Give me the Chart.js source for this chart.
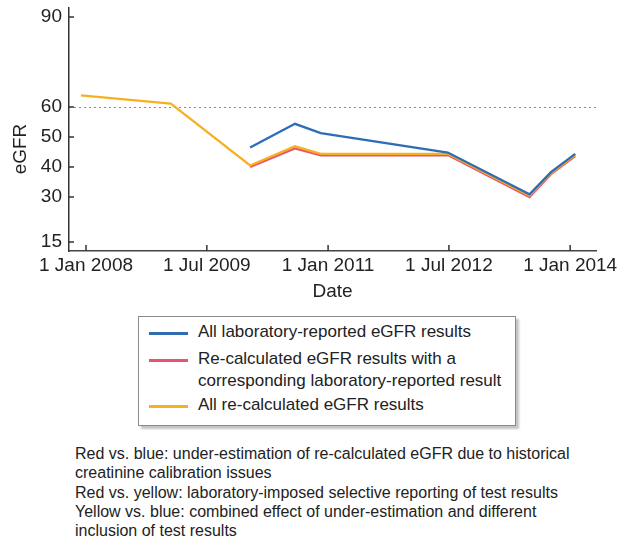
<!DOCTYPE html>
<html>
<head>
<meta charset="utf-8">
<script src="https://cdn.jsdelivr.net/npm/chart.js@4.4.1/dist/chart.umd.min.js"></script>
<style>
    body { margin: 0; background: #fff; font-family: "Liberation Sans", Arial, sans-serif; color: #222; }
    #wrap { position: relative; width: 617px; height: 539px; overflow: hidden; }
    #chart { position: absolute; left: 0; top: 0; }
    #legend { position: absolute; left: 138px; top: 316px; width: 376px; height: 108px;
              border: 1px solid #8a8a8a; box-shadow: 3px 3px 2px #c4c4c4; background: #fff; }
    #legend ul { list-style: none; margin: 0; padding: 4px 0 0 0; }
    #legend li { position: relative; padding-left: 59px; font-size: 17px; line-height: 22px; }
    #legend li .swatch { position: absolute; left: 10px; top: 11px; width: 39px; height: 3px; }
    #notes { position: absolute; left: 75px; top: 444px; font-size: 16px; line-height: 19.3px; }
</style>
</head>
<body>
<div id="wrap">
    <canvas id="chart" width="617" height="310"></canvas>
    <div id="legend"></div>
    <div id="notes">
        Red vs. blue: under-estimation of re-calculated eGFR due to historical<br>
        creatinine calibration issues<br>
        Red vs. yellow: laboratory-imposed selective reporting of test results<br>
        Yellow vs. blue: combined effect of under-estimation and different<br>
        inclusion of test results
    </div>
</div>
<script>
// values
const recalcDates = ['2007-12-09', '2009-01-19', '2010-01-13', '2010-08-04', '2010-11-29', '2012-06-26', '2013-07-01', '2013-10-06', '2014-01-24'];
const recalcValues = [63.9, 61.1, 40.5, 46.9, 44.4, 44.4, 30.5, 38.0, 44.0];

const labDates = ['2010-01-13', '2010-08-04', '2010-11-29', '2012-06-26', '2013-07-01', '2013-10-06', '2014-01-24'];
const labValues = [46.5, 54.4, 51.3, 44.8, 30.9, 38.3, 44.4];
const matchedValues = [40.0, 46.2, 43.9, 44.0, 30.0, 37.6, 43.6];

const xTickDates = ['2008-01-01', '2009-07-01', '2011-01-01', '2012-07-01', '2014-01-01'];
const xTickLabels = ['1 Jan 2008', '1 Jul 2009', '1 Jan 2011', '1 Jul 2012', '1 Jan 2014'];
const xMinDate = '2007-10-16';
const xMaxDate = '2014-04-28';

const yTicks = [15, 30, 40, 50, 60, 90];
const yMin = 12;
const yMax = 93;
const refLine = 60;

const labels = {
    lab: ['All laboratory-reported eGFR results'],
    matched: ['Re-calculated eGFR results with a', 'corresponding laboratory-reported result'],
    recalc: ['All re-calculated eGFR results'],
};

const FONT = '"Liberation Sans", Arial, sans-serif';
const toTime = d => Date.parse(d);
const xTickValues = xTickDates.map(toTime);

const points = (dates, values) => dates.map((d, i) => ({ x: toTime(d), y: values[i] }));

// legend is HTML, built from the chart datasets (in legend order)
const htmlLegend = {
    id: 'htmlLegend',
    afterUpdate(chart) {
        const box = document.getElementById('legend');
        const ul = document.createElement('ul');
        const order = [0, 1, 2];
        order.forEach((idx, i) => {
            const ds = chart.data.datasets[idx];
            const li = document.createElement('li');
            li.style.marginBottom = i === 0 ? '5px' : '2px';
            const sw = document.createElement('span');
            sw.className = 'swatch';
            sw.style.background = ds.borderColor;
            li.appendChild(sw);
            li.insertAdjacentHTML('beforeend', ds.label.join('<br>'));
            ul.appendChild(li);
        });
        box.innerHTML = '';
        box.appendChild(ul);
    }
};

const extras = {
    id: 'extras',
    beforeDatasetsDraw(chart) {
        const { ctx, chartArea } = chart;
        const y = chart.scales.y.getPixelForValue(refLine);
        ctx.save();
        ctx.strokeStyle = '#8c8c8c';
        ctx.lineWidth = 1;
        ctx.setLineDash([2, 3]);
        ctx.beginPath();
        ctx.moveTo(chartArea.left, Math.round(y) + 0.5);
        ctx.lineTo(chartArea.right, Math.round(y) + 0.5);
        ctx.stroke();
        ctx.restore();
    },
    afterDraw(chart) {
        const { ctx, chartArea } = chart;
        const xs = chart.scales.x, ys = chart.scales.y;
        ctx.save();
        ctx.strokeStyle = '#333';
        ctx.lineWidth = 1.5;
        ctx.beginPath();
        yTicks.forEach(v => {
            const p = ys.getPixelForValue(v);
            ctx.moveTo(chartArea.left, p);
            ctx.lineTo(chartArea.left + 5, p);
        });
        xTickValues.forEach(v => {
            const p = xs.getPixelForValue(v);
            ctx.moveTo(p, chartArea.bottom);
            ctx.lineTo(p, chartArea.bottom - 6);
        });
        ctx.stroke();

        // y axis title
        ctx.translate(21, 149);
        ctx.rotate(-Math.PI / 2);
        ctx.fillStyle = '#222';
        ctx.font = '19px ' + FONT;
        ctx.textAlign = 'center';
        ctx.textBaseline = 'middle';
        ctx.fillText('eGFR', 0, 0);
        ctx.restore();
    }
};

new Chart(document.getElementById('chart'), {
    type: 'line',
    data: {
        datasets: [
            { label: labels.lab, data: points(labDates, labValues), borderColor: '#2f6db3', order: 0 },
            { label: labels.matched, data: points(labDates, matchedValues), borderColor: '#e6546e', order: 2 },
            { label: labels.recalc, data: points(recalcDates, recalcValues), borderColor: '#f5b120', order: 1 },
        ],
    },
    options: {
        responsive: false,
        animation: false,
        layout: { padding: { top: 8, right: 21, left: 0, bottom: 0 } },
        elements: {
            line: { borderWidth: 2.3, tension: 0, fill: false },
            point: { radius: 0, hoverRadius: 0 },
        },
        plugins: {
            legend: { display: false },
            tooltip: { enabled: false },
        },
        scales: {
            x: {
                type: 'linear',
                min: toTime(xMinDate),
                max: toTime(xMaxDate),
                afterBuildTicks: scale => { scale.ticks = xTickValues.map(v => ({ value: v })); },
                afterFit: scale => {
                    scale.height = 59;
                    scale.paddingLeft = 0;
                    scale.paddingRight = 0;
                },
                grid: { display: false, drawTicks: false },
                border: { color: '#444', width: 1.5 },
                ticks: {
                    autoSkip: false,
                    maxRotation: 0,
                    padding: 3,
                    color: '#222',
                    font: { family: FONT, size: 19 },
                    callback: v => xTickLabels[xTickValues.indexOf(v)],
                },
                title: {
                    display: true,
                    text: 'Date',
                    color: '#222',
                    font: { family: FONT, size: 19 },
                    padding: { top: 0, bottom: 7 },
                },
            },
            y: {
                min: yMin,
                max: yMax,
                afterBuildTicks: scale => { scale.ticks = yTicks.map(v => ({ value: v })); },
                afterFit: scale => {
                    scale.width = 69;
                    scale.paddingTop = 0;
                    scale.paddingBottom = 0;
                },
                grid: { display: false, drawTicks: false },
                border: { color: '#333', width: 1.5 },
                ticks: {
                    padding: 7,
                    color: '#222',
                    font: { family: FONT, size: 19 },
                },
            },
        },
    },
    plugins: [htmlLegend, extras],
});
</script>
</body>
</html>
